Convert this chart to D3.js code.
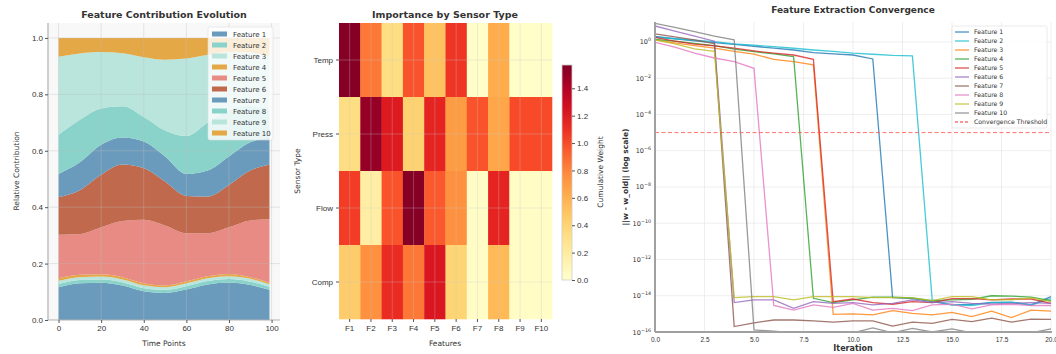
<!DOCTYPE html>
<html>
<head>
<meta charset="utf-8">
<script src="https://cdn.jsdelivr.net/npm/d3@7"></script>
<style>
  body { margin: 0; background: #fff; font-family: "DejaVu Sans", sans-serif; }
  svg text { fill: #333; }
</style>
</head>
<body>
<svg id="chart" width="1056" height="354"></svg>
<script>
// ---- panel 1: stacked contributions, read at every 10 time points
const timePoints = [0, 10, 20, 30, 40, 50, 60, 70, 80, 90, 99];
const feat1  = [0.116, 0.130, 0.132, 0.122, 0.102, 0.096, 0.108, 0.126, 0.133, 0.124, 0.107];
const feat2  = [0.012, 0.012, 0.012, 0.012, 0.011, 0.011, 0.012, 0.012, 0.012, 0.012, 0.011];
const feat3  = [0.011, 0.010, 0.010, 0.010, 0.010, 0.009, 0.010, 0.010, 0.010, 0.010, 0.009];
const feat4  = [0.009, 0.008, 0.008, 0.008, 0.007, 0.006, 0.007, 0.007, 0.008, 0.006, 0.005];
const feat5  = [0.154, 0.145, 0.167, 0.199, 0.225, 0.213, 0.171, 0.153, 0.166, 0.201, 0.225];
const feat6  = [0.133, 0.155, 0.186, 0.200, 0.183, 0.156, 0.132, 0.130, 0.150, 0.177, 0.193];
const feat7  = [0.083, 0.099, 0.106, 0.096, 0.095, 0.089, 0.078, 0.092, 0.101, 0.100, 0.095];
const feat8  = [0.139, 0.151, 0.129, 0.111, 0.087, 0.092, 0.134, 0.170, 0.165, 0.130, 0.100];
const feat9  = [0.276, 0.235, 0.200, 0.188, 0.212, 0.251, 0.275, 0.240, 0.205, 0.188, 0.192];
const feat10 = [0.067, 0.055, 0.050, 0.054, 0.068, 0.077, 0.073, 0.060, 0.050, 0.052, 0.063];
const featureNames = ["Feature 1", "Feature 2", "Feature 3", "Feature 4", "Feature 5",
                      "Feature 6", "Feature 7", "Feature 8", "Feature 9", "Feature 10"];
const stackColors = ["#6a9bbc", "#8ad3ca", "#b9e5dc", "#e5a846", "#e88b85", "#c0694c"];

// ---- panel 2: importance heatmap
const sensorTypes = ["Temp", "Press", "Flow", "Comp"];
const featureLabels = ["F1", "F2", "F3", "F4", "F5", "F6", "F7", "F8", "F9", "F10"];
const tempWeights  = [1.55, 0.85, 0.33, 0.97, 0.50, 1.08, 0.02, 0.62, 0.02, 0.02];
const pressWeights = [0.33, 1.50, 1.20, 0.42, 1.15, 0.70, 0.97, 0.65, 1.00, 1.00];
const flowWeights  = [1.05, 0.18, 0.97, 1.55, 0.95, 0.75, 0.03, 1.15, 0.03, 0.03];
const compWeights  = [0.45, 0.75, 1.12, 0.85, 1.22, 0.40, 0.03, 0.55, 0.03, 0.03];
const weightMax = 1.57;
const colorbarTicks = [0.0, 0.2, 0.4, 0.6, 0.8, 1.0, 1.2, 1.4];

// ---- panel 3: convergence ||w - w_old|| per iteration
const iterations = [0, 1, 2, 3, 4, 5, 6, 7, 8, 9, 10, 11, 12, 13, 14, 15, 16, 17, 18, 19, 20];
const conv1  = [2.0, 1.5, 1.15, 0.91, 0.74, 0.58, 0.45, 0.36, 0.26, 0.22, 0.19, 0.115, 7.9e-15, 6.9e-15, 4.7e-15, 3.1e-15, 3.3e-15, 4.3e-15, 4.3e-15, 3.1e-15, 8.9e-15];
const conv2  = [1.8, 1.5, 1.26, 1.05, 0.79, 0.66, 0.55, 0.45, 0.36, 0.30, 0.24, 0.21, 0.18, 0.17, 5.9e-15, 3.1e-15, 2.9e-15, 4.2e-15, 4.5e-15, 3.1e-15, 6.9e-15];
const conv3  = [1.3, 0.89, 0.63, 0.45, 0.30, 0.21, 0.11, 0.081, 0.054, 9.3e-16, 1.0e-15, 8.7e-16, 1.5e-15, 1.07e-15, 8.7e-16, 1.2e-15, 7.1e-16, 1.4e-15, 6.2e-16, 1.6e-15, 1.4e-15];
const conv4  = [1.4, 1.1, 0.83, 0.63, 0.40, 0.29, 0.22, 0.155, 7.2e-15, 4.2e-15, 5.9e-15, 8.3e-15, 8.3e-15, 7.6e-15, 5.4e-15, 5.9e-15, 6.3e-15, 1.0e-14, 9.6e-15, 8.3e-15, 5.4e-15];
const conv5  = [1.8, 1.1, 0.76, 0.60, 0.45, 0.32, 0.24, 0.19, 0.11, 4.7e-15, 6.6e-15, 4.2e-15, 3.4e-15, 4.7e-15, 4.2e-15, 6.9e-15, 6.9e-15, 5.9e-15, 6.6e-15, 6.6e-15, 3.8e-15];
const conv6  = [7.6, 4.0, 2.1, 1.1, 4.2e-15, 5.9e-15, 5.9e-15, 2.0e-15, 4.7e-15, 3.8e-15, 4.2e-15, 3.1e-15, 3.8e-15, 5.9e-15, 4.2e-15, 4.7e-15, 3.8e-15, 3.5e-15, 3.8e-15, 4.2e-15, 3.8e-15];
const conv7  = [2.8, 1.9, 1.3, 0.8, 2.0e-16, 3.2e-16, 4.6e-16, 4.6e-16, 4.1e-16, 3.5e-16, 4.1e-16, 4.1e-16, 2.1e-16, 3.5e-16, 3.0e-16, 5.0e-16, 3.7e-16, 5.8e-16, 3.5e-16, 5.1e-16, 5.0e-16];
const conv8  = [0.95, 0.52, 0.24, 0.13, 0.081, 0.035, 2.9e-15, 1.6e-15, 3.1e-15, 2.3e-15, 3.8e-15, 1.6e-15, 2.0e-15, 1.5e-15, 3.1e-15, 3.4e-15, 1.9e-15, 3.1e-15, 3.4e-15, 2.9e-15, 2.9e-15];
const conv9  = [1.3, 0.78, 0.41, 0.30, 7.9e-15, 8.9e-15, 8.9e-15, 5.9e-15, 8.9e-15, 8.9e-15, 8.9e-15, 7.9e-15, 7.9e-15, 7.6e-15, 5.4e-15, 8.9e-15, 8.9e-15, 5.9e-15, 5.9e-15, 7.6e-15, 4.7e-15];
const conv10 = [10.7, 6.3, 3.7, 2.1, 1.3, 1.3e-16, 1.1e-16, 9e-17, 9e-17, 9e-17, 9e-17, 1.7e-16, 9e-17, 1.6e-16, 1.0e-16, 1.5e-16, 9e-17, 9e-17, 9e-17, 9e-17, 1.5e-16];
const convThreshold = 1e-5;
const lineColors = ["#1f77b4", "#17becf", "#ff7f0e", "#2ca02c", "#d62728",
                    "#9467bd", "#8c564b", "#e377c2", "#bcbd22", "#7f7f7f"];
const xTicksConv = [0, 2.5, 5, 7.5, 10, 12.5, 15, 17.5, 20];
const yTicksConv = [1e0, 1e-2, 1e-4, 1e-6, 1e-8, 1e-10, 1e-12, 1e-14, 1e-16];

const svg = d3.select("#chart");
const gridColor = "#e6e6e6";
const spineColor = "#b0b0b0";

function styleAxis(g, size) {
  g.select(".domain").remove();
  g.selectAll(".tick line").attr("stroke", "#555");
  g.selectAll(".tick text").attr("font-size", size).attr("fill", "#333");
}

// ================= Panel 1 =================
{
  const x = d3.scaleLinear().domain([-4.95, 103.95]).range([48, 280]);
  const y = d3.scaleLinear().domain([0, 1.053]).range([320, 23]);
  const g = svg.append("g");

  g.append("rect").attr("x", 48).attr("y", 23).attr("width", 232).attr("height", 297).attr("fill", "#f8f8f8");

  const feats = [feat1, feat2, feat3, feat4, feat5, feat6, feat7, feat8, feat9, feat10];
  const rows = timePoints.map((t, i) => {
    const r = { t };
    featureNames.forEach((n, k) => r[n] = feats[k][i]);
    return r;
  });
  const series = d3.stack().keys(featureNames)(rows);
  const area = d3.area()
    .x(d => x(d.data.t))
    .y0(d => y(d[0]))
    .y1(d => y(d[1]))
    .curve(d3.curveMonotoneX);

  g.append("g").selectAll("path")
    .data(series)
    .join("path")
    .attr("d", area)
    .attr("fill", (d, i) => stackColors[i % stackColors.length]);

  // grid on top, faint
  g.append("g").selectAll("line").data([0, 20, 40, 60, 80, 100]).join("line")
    .attr("x1", d => x(d)).attr("x2", d => x(d)).attr("y1", 23).attr("y2", 320)
    .attr("stroke", "rgba(190,190,190,0.35)");
  g.append("g").selectAll("line").data([0.2, 0.4, 0.6, 0.8, 1.0]).join("line")
    .attr("x1", 48).attr("x2", 280).attr("y1", d => y(d)).attr("y2", d => y(d))
    .attr("stroke", "rgba(190,190,190,0.35)");

  g.append("line").attr("x1", 48).attr("x2", 48).attr("y1", 23).attr("y2", 320).attr("stroke", spineColor).attr("stroke-width", 1.2);
  g.append("line").attr("x1", 48).attr("x2", 280).attr("y1", 320).attr("y2", 320).attr("stroke", spineColor).attr("stroke-width", 1.2);

  g.append("g").attr("transform", "translate(0,320)")
    .call(d3.axisBottom(x).tickValues([0, 20, 40, 60, 80, 100]).tickSize(3).tickPadding(2))
    .call(a => styleAxis(a, 8));
  g.append("g").attr("transform", "translate(48,0)")
    .call(d3.axisLeft(y).tickValues([0, 0.2, 0.4, 0.6, 0.8, 1.0]).tickFormat(d3.format(".1f")).tickSize(3).tickPadding(2))
    .call(a => styleAxis(a, 8));

  g.append("text").attr("x", 164).attr("y", 18).attr("text-anchor", "middle")
    .attr("font-size", 9.5).attr("font-weight", "bold").attr("fill", "#111").text("Feature Contribution Evolution");
  g.append("text").attr("x", 164).attr("y", 346).attr("text-anchor", "middle")
    .attr("font-size", 7.5).text("Time Points");
  g.append("text").attr("transform", "translate(19,171) rotate(-90)").attr("text-anchor", "middle")
    .attr("font-size", 7.5).text("Relative Contribution");

  // legend
  const lg = g.append("g").attr("transform", "translate(208,27)");
  lg.append("rect").attr("width", 65).attr("height", 113).attr("rx", 2)
    .attr("fill", "#fff").attr("fill-opacity", 0.8).attr("stroke", "#ddd").attr("stroke-width", 0.6);
  featureNames.forEach((n, i) => {
    const e = lg.append("g").attr("transform", `translate(4,${7 + i * 11})`);
    e.append("rect").attr("x", 0).attr("y", -2.5).attr("width", 15).attr("height", 5)
      .attr("fill", stackColors[i % stackColors.length]);
    e.append("text").attr("x", 21).attr("y", 3).attr("font-size", 7).text(n);
  });
}

// ================= Panel 2 =================
{
  const x = d3.scaleBand().domain(featureLabels).range([339, 552]);
  const y = d3.scaleBand().domain(sensorTypes).range([23, 319]);
  const color = d3.scaleSequential(d3.interpolateYlOrRd).domain([0, weightMax]);
  const g = svg.append("g");
  const matrix = [tempWeights, pressWeights, flowWeights, compWeights];

  const cells = [];
  sensorTypes.forEach((s, r) => featureLabels.forEach((f, c) => cells.push({ s, f, v: matrix[r][c] })));
  g.append("g").selectAll("rect").data(cells).join("rect")
    .attr("x", d => x(d.f)).attr("y", d => y(d.s))
    .attr("width", x.bandwidth() + 0.3).attr("height", y.bandwidth() + 0.3)
    .attr("fill", d => color(d.v));

  g.append("g").selectAll("line").data(featureLabels).join("line")
    .attr("x1", d => x(d) + x.bandwidth() / 2).attr("x2", d => x(d) + x.bandwidth() / 2)
    .attr("y1", 23).attr("y2", 319).attr("stroke", "rgba(200,200,200,0.3)");
  g.append("g").selectAll("line").data(sensorTypes).join("line")
    .attr("y1", d => y(d) + y.bandwidth() / 2).attr("y2", d => y(d) + y.bandwidth() / 2)
    .attr("x1", 339).attr("x2", 552).attr("stroke", "rgba(200,200,200,0.3)");

  g.append("g").attr("transform", "translate(0,319)")
    .call(d3.axisBottom(x).tickSize(3).tickPadding(3))
    .call(a => styleAxis(a, 8));
  g.append("g").attr("transform", "translate(339,0)")
    .call(d3.axisLeft(y).tickSize(3).tickPadding(3))
    .call(a => styleAxis(a, 8));

  g.append("text").attr("x", 445).attr("y", 18).attr("text-anchor", "middle")
    .attr("font-size", 9.5).attr("font-weight", "bold").attr("fill", "#111").text("Importance by Sensor Type");
  g.append("text").attr("x", 445).attr("y", 346).attr("text-anchor", "middle")
    .attr("font-size", 7.5).text("Features");
  g.append("text").attr("transform", "translate(300,171) rotate(-90)").attr("text-anchor", "middle")
    .attr("font-size", 7.5).text("Sensor Type");

  // colorbar
  const cy = d3.scaleLinear().domain([0, weightMax]).range([280, 65]);
  const defs = svg.append("defs");
  const grad = defs.append("linearGradient").attr("id", "cbar").attr("x1", 0).attr("x2", 0).attr("y1", 1).attr("y2", 0);
  d3.range(0, 1.0001, 0.1).forEach(t => grad.append("stop").attr("offset", t).attr("stop-color", color(t * weightMax)));
  g.append("rect").attr("x", 562).attr("y", 65).attr("width", 10).attr("height", 215)
    .attr("fill", "url(#cbar)").attr("stroke", "#ccc").attr("stroke-width", 0.8);
  g.append("g").attr("transform", "translate(572,0)")
    .call(d3.axisRight(cy).tickValues(colorbarTicks).tickFormat(d3.format(".1f")).tickSize(3).tickPadding(2))
    .call(a => styleAxis(a, 8));
  g.append("text").attr("transform", "translate(603,172) rotate(-90)").attr("text-anchor", "middle")
    .attr("font-size", 7.5).text("Cumulative Weight");
}

// ================= Panel 3 =================
{
  const x = d3.scaleLinear().domain([0, 20]).range([655, 1051]);
  const y = d3.scaleLog().domain([1e-16, Math.pow(10, 1.1)]).range([332, 22]);
  const g = svg.append("g");

  svg.select("defs").append("clipPath").attr("id", "convClip")
    .append("rect").attr("x", 655).attr("y", 22).attr("width", 400).attr("height", 310);

  g.append("g").selectAll("line").data(xTicksConv).join("line")
    .attr("x1", d => x(d)).attr("x2", d => x(d)).attr("y1", 22).attr("y2", 332).attr("stroke", gridColor).attr("stroke-width", 0.7);
  g.append("g").selectAll("line").data(yTicksConv).join("line")
    .attr("x1", 655).attr("x2", 1051).attr("y1", d => y(d)).attr("y2", d => y(d)).attr("stroke", gridColor).attr("stroke-width", 0.7);

  const convs = [conv1, conv2, conv3, conv4, conv5, conv6, conv7, conv8, conv9, conv10];
  const line = d3.line().x((d, i) => x(iterations[i])).y(d => y(d));
  const lines = g.append("g").attr("clip-path", "url(#convClip)");
  convs.forEach((c, k) => {
    lines.append("path").attr("d", line(c)).attr("fill", "none")
      .attr("stroke", lineColors[k]).attr("stroke-width", 1.3).attr("stroke-opacity", 0.8);
  });
  lines.append("line").attr("x1", 655).attr("x2", 1051).attr("y1", y(convThreshold)).attr("y2", y(convThreshold))
    .attr("stroke", "#ff4d4d").attr("stroke-opacity", 0.8).attr("stroke-width", 1).attr("stroke-dasharray", "4,2.5");

  g.append("line").attr("x1", 655).attr("x2", 655).attr("y1", 22).attr("y2", 332).attr("stroke", "#a0a0a0").attr("stroke-width", 2);
  g.append("line").attr("x1", 655).attr("x2", 1052).attr("y1", 332).attr("y2", 332).attr("stroke", "#a0a0a0").attr("stroke-width", 2);

  g.append("g").attr("transform", "translate(0,332)")
    .call(d3.axisBottom(x).tickValues(xTicksConv).tickFormat(d3.format(".1f")).tickSize(0).tickPadding(5))
    .call(a => styleAxis(a, 6.5));

  const yt = g.append("g").selectAll("text").data(yTicksConv).join("text")
    .attr("x", 651).attr("y", d => y(d) + 2.5).attr("text-anchor", "end").attr("font-size", 6.5);
  yt.append("tspan").text("10");
  yt.append("tspan").attr("dy", -3).attr("font-size", 4.8)
    .text(d => { const e = Math.round(Math.log10(d)); return e < 0 ? "\u2212" + (-e) : String(e); });

  g.append("text").attr("x", 853).attr("y", 13).attr("text-anchor", "middle")
    .attr("font-size", 9).attr("font-weight", "bold").attr("fill", "#111").text("Feature Extraction Convergence");
  g.append("text").attr("x", 853).attr("y", 351).attr("text-anchor", "middle")
    .attr("font-size", 8).attr("font-weight", "bold").attr("fill", "#111").text("Iteration");
  g.append("text").attr("transform", "translate(628,177) rotate(-90)").attr("text-anchor", "middle")
    .attr("font-size", 7.5).attr("font-weight", "bold").attr("fill", "#111").text("||w - w_old|| (log scale)");

  // legend
  const lg = g.append("g").attr("transform", "translate(952,26)");
  lg.append("rect").attr("width", 95).attr("height", 102).attr("rx", 2)
    .attr("fill", "#fff").attr("fill-opacity", 0.85).attr("stroke", "#ddd").attr("stroke-width", 0.6);
  const entries = featureNames.map((n, i) => ({ n, c: lineColors[i], dash: null }))
    .concat([{ n: "Convergence Threshold", c: "#ff4d4d", dash: "3,2" }]);
  entries.forEach((e, i) => {
    const r = lg.append("g").attr("transform", `translate(3,${6 + i * 9})`);
    r.append("line").attr("x1", 0).attr("x2", 14).attr("stroke", e.c).attr("stroke-width", 1.3)
      .attr("stroke-opacity", 0.8).attr("stroke-dasharray", e.dash);
    r.append("text").attr("x", 19).attr("y", 2.2).attr("font-size", 6.2).text(e.n);
  });
}
</script>
</body>
</html>
